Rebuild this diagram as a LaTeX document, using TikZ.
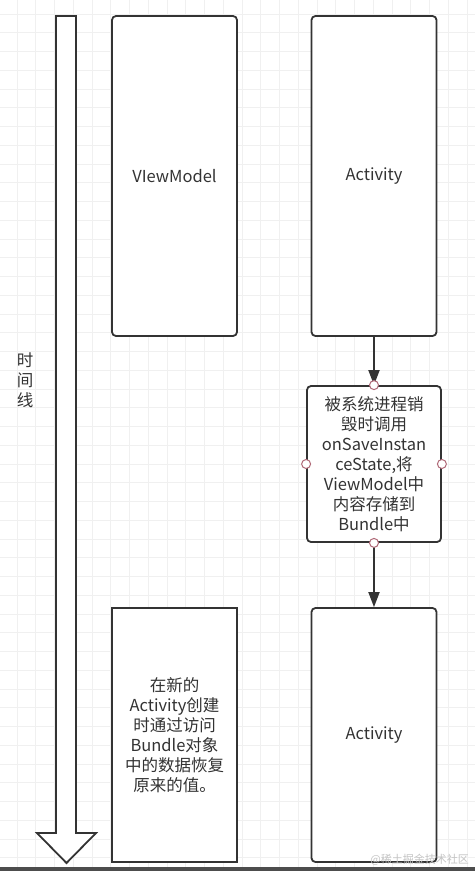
\documentclass[tikz,border=0pt]{standalone}
\usepackage{fontspec}
\setmainfont{Noto Sans CJK SC}
\usetikzlibrary{arrows.meta}
\definecolor{ink}{HTML}{333333}
\definecolor{gridc}{HTML}{F0F0F0}
\definecolor{portc}{HTML}{B06A78}
\definecolor{barc}{HTML}{4D4D4D}
\definecolor{wmc}{HTML}{C4C4C4}
\tikzset{
  box/.style={draw=ink, line width=1.8pt, fill=white, rounded corners=4pt, text=ink,
    minimum width=125pt, font=\fontsize{16.5pt}{20pt}\selectfont, align=center, inner sep=2pt},
  sharpbox/.style={box, rounded corners=0pt},
  gridline/.style={gridc, line width=0.8pt},
  conn/.style={draw=ink, line width=1.8pt, -{Triangle[length=15pt,width=11pt]}},
  port/.style={circle, draw=portc, fill=white, line width=1pt, minimum size=9pt, inner sep=0pt},
  lbl/.style={text=ink, font=\fontsize{16.5pt}{20pt}\selectfont, align=center, inner sep=0pt},
  wm/.style={text=wmc, font=\fontsize{11pt}{12pt}\selectfont, inner sep=0pt}
}
\begin{document}
\begin{tikzpicture}[x=1pt, y=-1pt]
\useasboundingbox (0,0) rectangle (475,871);
\fill[white] (0,0) rectangle (475,871);
% grid
\foreach \i in {0,...,25} {
  \draw[gridline] ({17+\i*18.75},0) -- ({17+\i*18.75},871);
}
\foreach \j in {0,...,46} {
  \draw[gridline] (0,{14+\j*18.75}) -- (475,{14+\j*18.75});
}
% time arrow
\draw[draw=ink, line width=1.8pt, fill=white, line join=miter]
  (56,16) -- (76,16) -- (76,833) -- (96,833) -- (66.5,863) -- (37,833) -- (56,833) -- cycle;
\node[lbl] (tl) at (25,380) {时\\间\\线};
% boxes
\node[box, minimum height=320pt] (vm) at (174.5,176) {VIewModel};
\node[box, minimum height=320pt] (act1) at (374,176) {Activity};
\node[box, minimum width=134pt, minimum height=156pt] (save) at (374,464)
  {被系统进程销\\毁时调用\\onSaveInstan\\ceState,将\\ViewModel中\\内容存储到\\Bundle中};
\node[sharpbox, minimum height=254pt] (restore) at (174.5,735)
  {在新的\\Activity创建\\时通过访问\\Bundle对象\\中的数据恢复\\原来的值。};
\node[box, minimum height=254pt] (act2) at (374,735) {Activity};
% connectors
\draw[conn] (act1.south) -- (save.north);
\draw[conn] (save.south) -- (act2.north);
% ports
\node[port] (pn) at (save.north) {};
\node[port] (ps) at (save.south) {};
\node[port] (pw) at (save.west) {};
\node[port] (pe) at (save.east) {};
% watermark and bottom bar
\node[wm, anchor=east] (wmk) at (469,860) {@稀土掘金技术社区};
\fill[barc] (0,866.5) rectangle (475,871);
\end{tikzpicture}
\end{document}
